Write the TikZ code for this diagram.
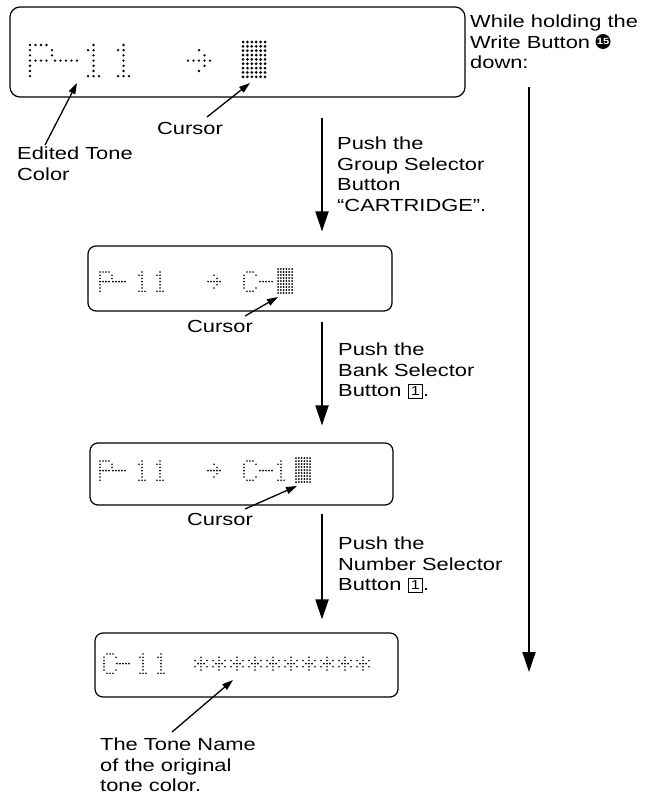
\documentclass[tikz,border=0pt]{standalone}
\usepackage{fontspec}
\setmainfont{Liberation Sans}[FakeStretch=1.25]
\usetikzlibrary{arrows.meta}

% 5x7 dot matrix characters, col/row of every lit dot
\newcommand{\glP}{0/0,1/0,2/0,3/0,0/1,4/1,0/2,4/2,0/3,1/3,2/3,3/3,0/4,0/5,0/6}
\newcommand{\glC}{1/0,2/0,3/0,0/1,4/1,0/2,0/3,0/4,0/5,4/5,1/6,2/6,3/6}
\newcommand{\glOne}{2/0,1/1,2/1,2/2,2/3,2/4,2/5,1/6,2/6,3/6}
\newcommand{\glDash}{0/3,1/3,2/3,3/3,4/3}
\newcommand{\glArr}{2/1,3/2,0/3,1/3,2/3,3/3,4/3,3/4,2/5}
\newcommand{\glStar}{2/1,0/2,2/2,4/2,1/3,2/3,3/3,0/4,2/4,4/4,2/5}

% x, y, pitch x, pitch y, dot radius, character
\newcommand{\glyph}[6]{%
  \foreach \c/\r in #6 {\fill (#1+\c*#3, #2+\r*#4) circle[radius=#5];}}
\newcommand{\cursorblk}[5]{%
  \foreach \c in {0,...,5} \foreach \r in {0,...,8} {\fill (#1+\c*#3, #2+\r*#4) circle[radius=#5];}}

\newcommand{\keyone}{\raisebox{1pt}{\setlength\fboxsep{2.5pt}\setlength\fboxrule{0.8pt}\fbox{\fontsize{13}{13}\selectfont 1}}}

\begin{document}
\begin{tikzpicture}[x=1pt, y=-1pt,
    every node/.style={font=\fontsize{17.5}{20.5}\selectfont, inner sep=0pt},
    lcd/.style={draw, line width=1.2pt, rounded corners=8pt},
    note/.style={anchor=north west, align=left},
    btn/.style={circle, fill=black, text=white, minimum size=15pt, font=\fontsize{9}{9}\selectfont\bfseries},
    flow/.style={line width=2pt, -{Triangle[length=20pt,width=13pt]}},
    ptr/.style={line width=1.3pt, -{Triangle[length=11pt,width=7pt]}}]

  \useasboundingbox (0,0) rectangle (648,797);

  % displays
  \node[lcd, rounded corners=10pt, minimum width=455pt, minimum height=90pt] (lcdA) at (237.5,52) {};
  \node[lcd, minimum width=304pt, minimum height=65pt] (lcdB) at (240,278.5) {};
  \node[lcd, minimum width=303pt, minimum height=62pt] (lcdC) at (241.5,474) {};
  \node[lcd, minimum width=303pt, minimum height=64pt] (lcdD) at (246.5,665) {};

  % P-11 -> cursor (large)
  \glyph{30}{45}{5.5}{5.2}{1.3pt}{\glP}
  \glyph{55}{45}{5.5}{5.2}{1.3pt}{\glDash}
  \glyph{82.5}{45}{5.5}{5.2}{1.3pt}{\glOne}
  \glyph{112.5}{45}{5.5}{5.2}{1.3pt}{\glOne}
  \glyph{188}{45}{5.5}{5.2}{1.3pt}{\glArr}
  \cursorblk{243}{42}{4.4}{4.35}{1.5pt}

  % P-11 -> C-cursor
  \glyph{100}{272}{3}{3.2}{0.9pt}{\glP}
  \glyph{113}{272}{3}{3.2}{0.9pt}{\glDash}
  \glyph{136}{272}{3}{3.2}{0.9pt}{\glOne}
  \glyph{154}{272}{3}{3.2}{0.9pt}{\glOne}
  \glyph{208}{272}{3}{3.2}{0.9pt}{\glArr}
  \glyph{244}{272}{3}{3.2}{0.9pt}{\glC}
  \glyph{260}{272}{3}{3.2}{0.9pt}{\glDash}
  \cursorblk{278}{269}{2.8}{3}{1pt}

  % P-11 -> C-1cursor
  \glyph{100}{461}{3}{3.2}{0.9pt}{\glP}
  \glyph{113}{461}{3}{3.2}{0.9pt}{\glDash}
  \glyph{136}{461}{3}{3.2}{0.9pt}{\glOne}
  \glyph{154}{461}{3}{3.2}{0.9pt}{\glOne}
  \glyph{208}{461}{3}{3.2}{0.9pt}{\glArr}
  \glyph{244}{461}{3}{3.2}{0.9pt}{\glC}
  \glyph{260}{461}{3}{3.2}{0.9pt}{\glDash}
  \glyph{275}{461}{3}{3.2}{0.9pt}{\glOne}
  \cursorblk{296}{458}{2.8}{3}{1pt}

  % C-11 tone name
  \glyph{104}{654}{3}{3.2}{0.9pt}{\glC}
  \glyph{117}{654}{3}{3.2}{0.9pt}{\glDash}
  \glyph{137}{654}{3}{3.2}{0.9pt}{\glOne}
  \glyph{155}{654}{3}{3.2}{0.9pt}{\glOne}
  \foreach \i in {0,...,9} {
    \glyph{195+\i*18}{654}{3}{3.2}{0.9pt}{\glStar}
  }

  % labels
  \node[note] (hold) at (470,15) {While holding the\\Write Button\\down:};
  \node[btn] (wbtn) at (603,41.5) {15};
  \node[note] (edited) at (17,147) {Edited Tone\\Color};
  \node[note] (cursA) at (157,122) {Cursor};
  \node[note] (cursB) at (187,320) {Cursor};
  \node[note] (cursC) at (187,513) {Cursor};
  \node[note] (tone) at (100,738) {The Tone Name\\of the original\\tone color.};
  \node[note] (stepA) at (337,137) {Push the\\Group Selector\\Button\\“CARTRIDGE”.};
  \node[note] (stepB) at (338,343) {Push the\\Bank Selector\\Button \keyone.};
  \node[note] (stepC) at (338,537) {Push the\\Number Selector\\Button \keyone.};

  \coordinate (colx) at (322,0);
  \coordinate (tipP) at (77,83);
  \coordinate (tipA) at (250,83);
  \coordinate (tipB) at (278,297);
  \coordinate (tipC) at (297,486);
  \coordinate (tipT) at (233,680);
  \coordinate (holdend) at (529,672);

  % pointers
  \draw[ptr] ([xshift=28pt,yshift=2pt]edited.north west) -- (tipP);
  \draw[ptr] ([xshift=50pt,yshift=5pt]cursA.north west) -- (tipA);
  \draw[ptr] ([xshift=58pt,yshift=4pt]cursB.north west) -- (tipB);
  \draw[ptr] ([xshift=58pt,yshift=4pt]cursC.north west) -- (tipC);
  \draw[ptr] ([xshift=72pt,yshift=6pt]tone.north west) -- (tipT);

  % steps
  \draw[flow, shorten <=20pt, shorten >=14pt] (lcdA.south -| colx) -- (lcdB.north -| colx);
  \draw[flow, shorten <=10pt, shorten >=17pt] (lcdB.south -| colx) -- (lcdC.north -| colx);
  \draw[flow, shorten <=8pt, shorten >=13pt] (lcdC.south -| colx) -- (lcdD.north -| colx);
  \draw[flow, shorten <=18pt] (hold.south -| holdend) -- (holdend);
\end{tikzpicture}
\end{document}
